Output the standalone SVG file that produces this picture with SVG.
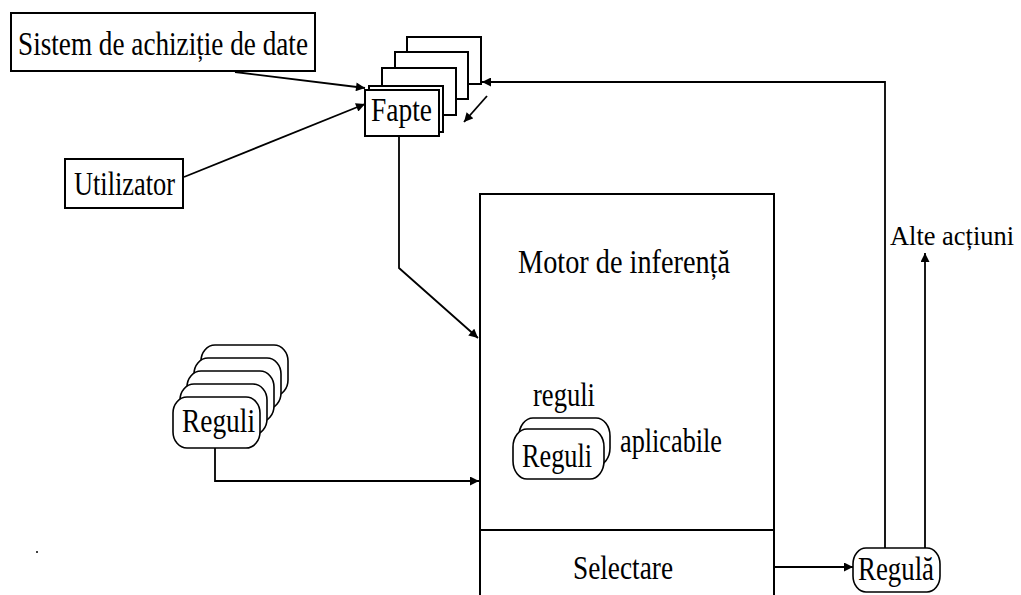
<svg xmlns="http://www.w3.org/2000/svg" width="1021" height="595" viewBox="0 0 1021 595">
  <style>
    .box { fill: #fff; stroke: #000; stroke-width: 2; }
    .rr { fill: #fff; stroke: #000; stroke-width: 1.6; }
    .t { font-family: "Liberation Serif", "DejaVu Serif", serif; font-size: 33px; fill: #000; }
    .c { fill: none; stroke: #000; stroke-width: 1.8; }
  </style>
  <defs>
    <marker id="ah" viewBox="0 0 10 10" refX="10" refY="5" markerWidth="5.5" markerHeight="5" orient="auto" markerUnits="strokeWidth">
      <path d="M0,0 L10,5 L0,10 z" fill="#000"/>
    </marker>
  </defs>
  <rect width="1021" height="595" fill="#fff"/>

  <g id="sistem">
    <rect class="box" x="11" y="13" width="304" height="58"/>
    <text class="t" x="18" y="55" textLength="290" lengthAdjust="spacingAndGlyphs">Sistem de achiziție de date</text>
  </g>

  <g id="utilizator">
    <rect class="box" x="65" y="159" width="118" height="49"/>
    <text class="t" x="74" y="195" textLength="101" lengthAdjust="spacingAndGlyphs">Utilizator</text>
  </g>

  <g id="fapte">
    <rect class="box" x="407" y="37" width="74" height="47"/>
    <rect class="box" x="395" y="52" width="73" height="47"/>
    <rect class="box" x="382" y="68" width="74" height="47"/>
    <rect class="box" x="369" y="86" width="74" height="46"/>
    <rect class="box" x="365" y="90" width="74" height="46"/>
    <text class="t" x="371" y="121" textLength="61" lengthAdjust="spacingAndGlyphs">Fapte</text>
  </g>

  <g id="reguli-baza">
    <rect class="rr" x="201" y="345" width="87" height="51" rx="14" ry="16"/>
    <rect class="rr" x="194" y="358" width="87" height="51" rx="14" ry="16"/>
    <rect class="rr" x="187" y="371" width="87" height="51" rx="14" ry="16"/>
    <rect class="rr" x="180" y="384" width="87" height="51" rx="14" ry="16"/>
    <rect class="rr" x="173" y="397" width="87" height="51" rx="14" ry="16"/>
    <text class="t" x="182" y="432" textLength="73" lengthAdjust="spacingAndGlyphs">Reguli</text>
  </g>

  <g id="motor">
    <path class="box" d="M480,600 L480,194 L774,194 L774,600" fill="#fff"/>
    <line x1="480" y1="530" x2="774" y2="530" stroke="#000" stroke-width="2"/>
    <text class="t" x="518" y="273" textLength="212" lengthAdjust="spacingAndGlyphs">Motor de inferență</text>
    <text class="t" x="533" y="406" textLength="62" lengthAdjust="spacingAndGlyphs">reguli</text>
    <rect class="rr" x="519" y="418" width="91" height="48" rx="14" ry="18"/>
    <rect class="rr" x="513" y="429" width="91" height="50" rx="14" ry="18"/>
    <text class="t" x="522" y="467" textLength="70" lengthAdjust="spacingAndGlyphs">Reguli</text>
    <text class="t" x="620" y="452" textLength="102" lengthAdjust="spacingAndGlyphs">aplicabile</text>
    <text class="t" x="573" y="579" textLength="100" lengthAdjust="spacingAndGlyphs">Selectare</text>
  </g>

  <g id="regula">
    <rect class="rr" x="853" y="548" width="87" height="44" rx="13" ry="16"/>
    <text class="t" x="858" y="580" textLength="76" lengthAdjust="spacingAndGlyphs">Regulă</text>
  </g>

  <g id="alte-actiuni">
    <text class="t" x="890" y="245" font-size="28" style="font-size:28px" textLength="124" lengthAdjust="spacingAndGlyphs">Alte acțiuni</text>
  </g>

  <g id="dot">
    <circle cx="37" cy="552" r="1" fill="#000"/>
  </g>

  <g id="connectors">
    <line class="c" x1="235" y1="72" x2="365" y2="88" marker-end="url(#ah)"/>
    <line class="c" x1="184" y1="177" x2="365" y2="104" marker-end="url(#ah)"/>
    <polyline class="c" points="399,136 399,268 478,338" marker-end="url(#ah)"/>
    <polyline class="c" points="215,448 215,481 479,481" marker-end="url(#ah)"/>
    <line class="c" x1="774" y1="567" x2="853" y2="567" marker-end="url(#ah)"/>
    <polyline class="c" points="885,548 885,82 482,82" marker-end="url(#ah)"/>
    <line class="c" x1="925" y1="548" x2="925" y2="253" marker-end="url(#ah)"/>
    <line class="c" x1="487" y1="96" x2="464" y2="122" stroke-width="1.4" marker-end="url(#ah)"/>
  </g>
</svg>
